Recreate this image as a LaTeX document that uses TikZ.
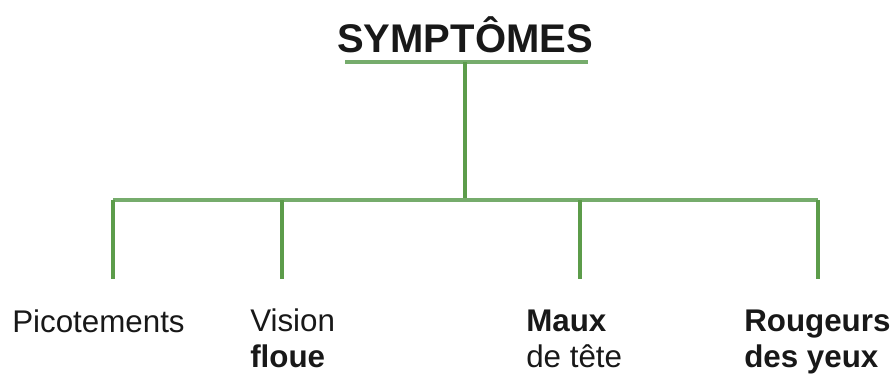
\documentclass[tikz,border=0pt]{standalone}
\usepackage{fontspec}
\setmainfont{Liberation Sans}
\definecolor{branchgreen}{RGB}{92,156,74}
\definecolor{bargreen}{RGB}{118,172,108}
\definecolor{inkgrey}{RGB}{24,24,24}
\tikzset{
  branch/.style={color=branchgreen, line width=2.6pt},
  bar/.style={color=bargreen, line width=2.8pt},
  leaf/.style={anchor=base west, inner sep=0pt, align=left, text=inkgrey,
    font=\fontsize{23.5}{26.5}\selectfont},
}
\begin{document}
\begin{tikzpicture}[x=0.75pt,y=0.75pt,yscale=-1,xscale=1]
\path[use as bounding box] (0,0) rectangle (890,376);

% Text Node
\draw (465,52) node (title) [anchor=base, inner sep=0pt, text=inkgrey, font=\fontsize{30}{34}\selectfont\bfseries] {SYMPTÔMES};

% Coordinates
\coordinate (barL) at (345,62);
\coordinate (barR) at (588,62);
\coordinate (root) at (465,62);
\coordinate (hub) at (465,200);
\coordinate (busL) at (113,200);
\coordinate (busR) at (818,200);
\coordinate (picoTop) at (113,200);
\coordinate (picoEnd) at (113,279);
\coordinate (visTop) at (282,200);
\coordinate (visEnd) at (282,279);
\coordinate (mauxTop) at (580,200);
\coordinate (mauxEnd) at (580,279);
\coordinate (rougTop) at (818,200);
\coordinate (rougEnd) at (818,279);

%Straight Lines
\draw [bar] (barL) -- (barR) ;
\draw [branch] (root) -- (hub) ;
\draw [bar] (busL) -- (busR) ;
%Straight Lines
\draw [branch] (picoTop) -- (picoEnd) ;
\draw [branch] (visTop) -- (visEnd) ;
\draw [branch] (mauxTop) -- (mauxEnd) ;
\draw [branch] (rougTop) -- (rougEnd) ;

% Text Node
\draw (12,332) node (pico) [leaf] {Picotements};
% Text Node
\draw (250,367) node (vis) [leaf] {Vision\\\textbf{floue}};
% Text Node
\draw (526,367) node (maux) [leaf] {\textbf{Maux}\\de tête};
% Text Node
\draw (744,367) node (roug) [leaf] {\textbf{Rougeurs}\\\textbf{des yeux}};
\end{tikzpicture}
\end{document}
